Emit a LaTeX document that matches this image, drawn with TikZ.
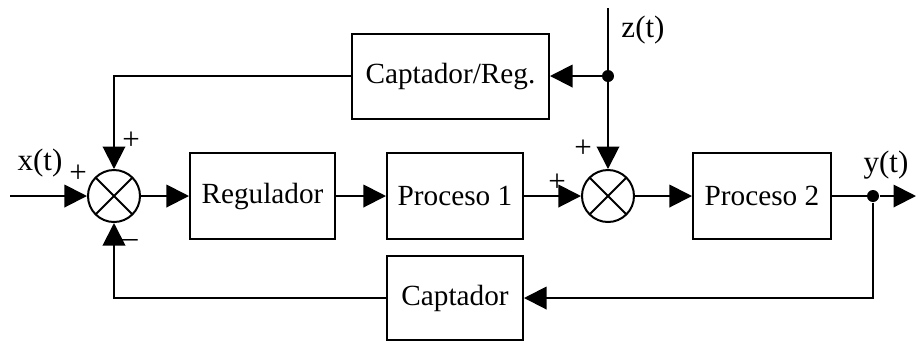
\documentclass[tikz,border=0pt]{standalone}
\usepackage{fontspec}
\setmainfont{Liberation Serif}
\usetikzlibrary{arrows.meta,positioning}
\tikzstyle{block} = [rectangle, draw=black, line width=0.8pt, minimum height=34.4pt, inner sep=2pt, font=\fontsize{11.7}{14}\selectfont]
\tikzstyle{sum} = [circle, draw=black, line width=0.8pt, minimum size=20.8pt, inner sep=0pt, path picture={\draw[line width=0.8pt] (path picture bounding box.north west) -- (path picture bounding box.south east) (path picture bounding box.north east) -- (path picture bounding box.south west);}]
\tikzstyle{dot} = [circle, fill=black, inner sep=0pt, minimum size=4.8pt]
\tikzstyle{sign} = [inner sep=0pt, font=\fontsize{12.4}{14}\selectfont]
\tikzstyle{arrow} = [line width=0.8pt,-{Triangle[length=9pt,width=9pt]}]
\tikzstyle{line} = [line width=0.8pt]

\begin{document}
\begin{tikzpicture}[x=0.4pt,y=-0.4pt]
        \useasboundingbox (0,0) rectangle (916,343);
        % blocks
        \node (sumx) [sum] at (114,196) {};
        \node (regulador) [block, minimum width=58pt] at (262.5,196) {Regulador};
        \node (proceso1) [block, minimum width=54.4pt] at (455,196) {Proceso 1};
        \node (sumz) [sum] at (608,196) {};
        \node (proceso2) [block, minimum width=55.2pt] at (762,196) {Proceso 2};
        \node (captador) [block, minimum width=54.4pt, minimum height=33.6pt] at (455,298) {Captador};
        \node (captreg) [block, minimum width=78.8pt, minimum height=34pt] at (450.5,76) {Captador/Reg.};
        % branch points
        \node (ydot) [dot] at (873,196) {};
        \node (zdot) [dot] at (608,76) {};
        \coordinate (xin) at (10,196);
        \coordinate (yout) at (916,196);
        \coordinate (zin) at (608,8);
        % signals
        \node (xlabel) [sign] at (40,163) {x(t)};
        \node (ylabel) [sign] at (886,165) {y(t)};
        \node (zlabel) [sign] at (643,30) {z(t)};
        \node (plusx) [sign] at (78,174) {+};
        \node (plusr) [sign] at (131,141) {+};
        \node (minus) [sign] at (130,243) {--};
        \node (plusz) [sign] at (583,149) {+};
        \node (plusp) [sign] at (557,183) {+};

        \draw [arrow] (xin) -- (sumx);
        \draw [arrow] (sumx) -- (regulador);
        \draw [arrow] (regulador) -- (proceso1);
        \draw [arrow] (proceso1) -- (sumz);
        \draw [arrow] (sumz) -- (proceso2);
        \draw [line] (proceso2) -- (ydot);
        \draw [arrow] (ydot) -- (yout);
        \draw [arrow] (ydot) |- (captador);
        \draw [arrow] (captador) -| (sumx);
        \draw [arrow] (zin) -- (sumz);
        \draw [arrow] (zdot) -- (captreg);
        \draw [arrow] (captreg) -| (sumx);
    \end{tikzpicture}
\end{document}
